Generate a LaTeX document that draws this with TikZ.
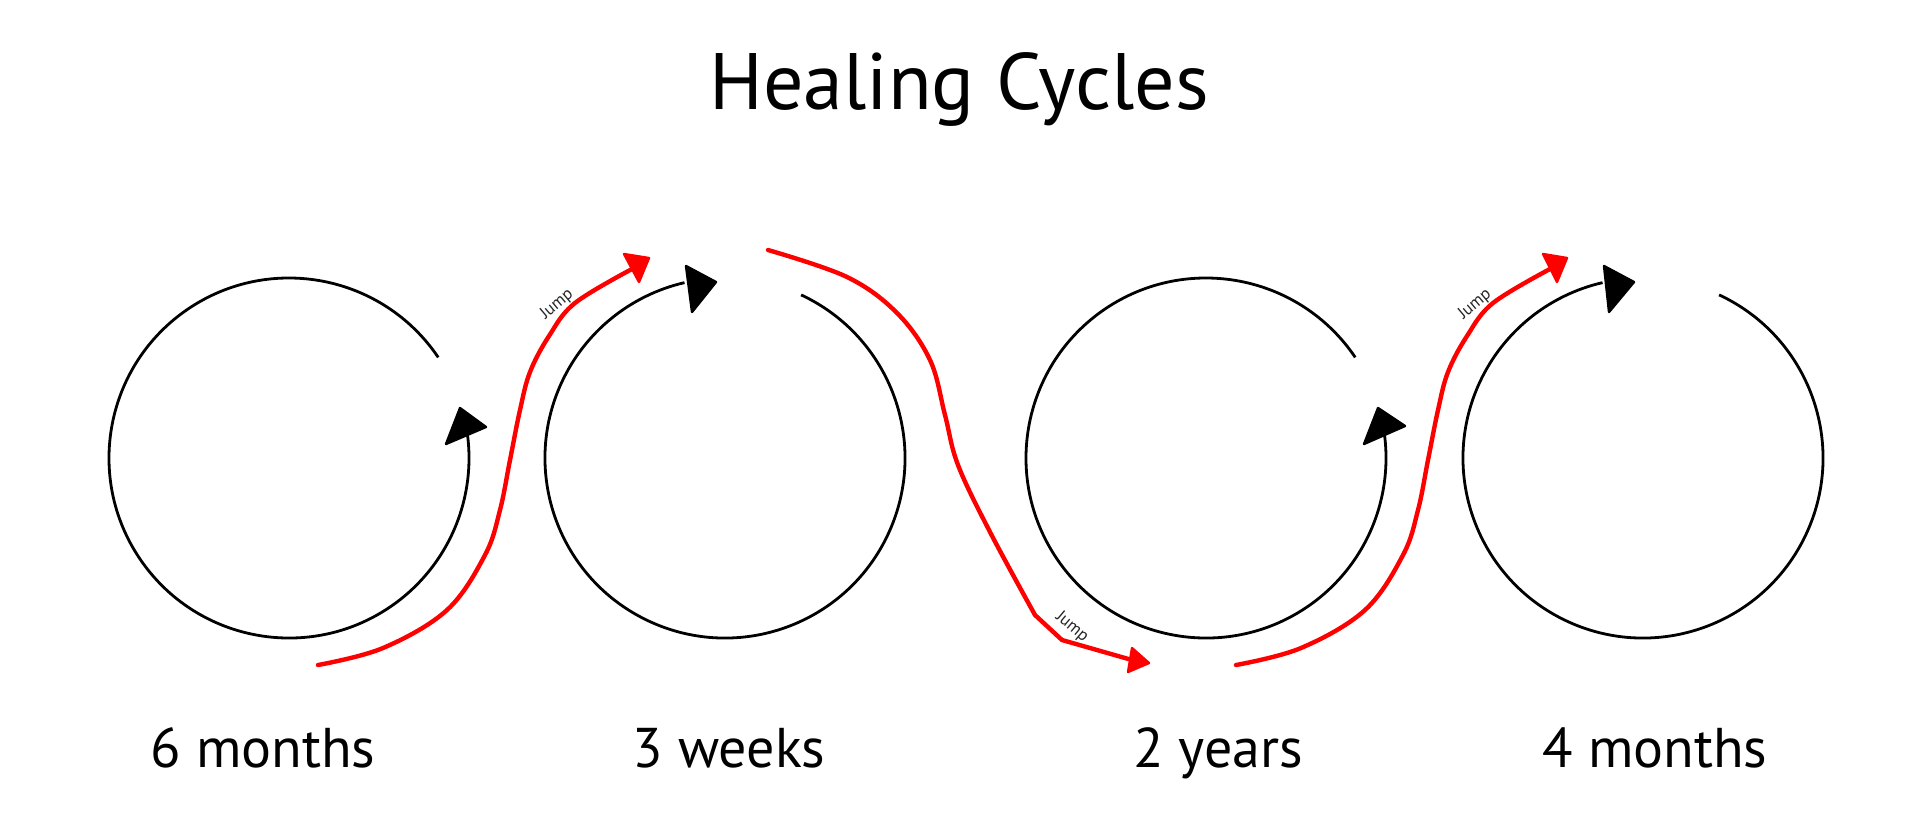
\documentclass[tikz,border=0pt]{standalone}
\usepackage{fontspec}
\setmainfont{PT Sans}
\begin{document}
\begin{tikzpicture}[x=0.5pt,y=-0.5pt,
  circ/.style={line width=1.4pt, black},
  head/.style={fill=black, draw=black, line width=1.2pt, line join=round},
  jumpline/.style={red, line width=2.2pt, line cap=round, line join=round},
  rhead/.style={fill=red, draw=red, line width=1.2pt, line join=round},
  lbl/.style={anchor=base, font=\fontsize{28}{30}\selectfont},
  jmp/.style={font=\fontsize{8.5}{10}\selectfont, text=black!85, inner sep=0pt}]
\useasboundingbox (0,0) rectangle (1920,832);
\fill[white] (0,0) rectangle (1920,832);

\node[anchor=base, font=\fontsize{40}{44}\selectfont] (title) at (959,109) {Healing Cycles};

% circle centres
\coordinate (c1) at (289,458);
\coordinate (c2) at (725,458);
\coordinate (c3) at (1206,458);
\coordinate (c4) at (1643,458);

% circles with gaps
\draw[circ] (c1) ++(-34:180) arc[start angle=-34, end angle=-368, radius=180];
\draw[circ] (c2) ++(-65:180) arc[start angle=-65, end angle=257, radius=180];
\draw[circ] (c3) ++(-34:180) arc[start angle=-34, end angle=-368, radius=180];
\draw[circ] (c4) ++(-65:180) arc[start angle=-65, end angle=257, radius=180];

% black arrowheads
\filldraw[head] (460,408) -- (486,427) -- (446,444) -- cycle;
\filldraw[head] (686,266) -- (716,282) -- (692,312) -- cycle;
\filldraw[head] (1378,408) -- (1405,426) -- (1364,444) -- cycle;
\filldraw[head] (1604,266) -- (1634,282) -- (1609,312) -- cycle;

% red jump paths
\coordinate (r1s) at (318,665);
\coordinate (r1e) at (632,269);
\draw[jumpline] plot[smooth, tension=0.6] coordinates {(318,665) (383,648) (447,610) (485,555) (500,510) (510,460) (520,410) (530,372) (549,336) (575,303) (632,269)};
\filldraw[rhead] (624,254) -- (649,258) -- (639,282) -- cycle;

\coordinate (r2s) at (768,250);
\coordinate (r2e) at (1132,660);
\draw[jumpline] plot[smooth, tension=0.6] coordinates {(768,250) (847,277) (897,313) (930,360) (945,415) (958,465) (990,532) (1035,615)} -- (1062,640) -- (1132,660);
\filldraw[rhead] (1132,648) -- (1149,663) -- (1128,672) -- cycle;

\coordinate (r3s) at (1236,665);
\coordinate (r3e) at (1550,269);
\draw[jumpline] plot[smooth, tension=0.6] coordinates {(1236,665) (1301,648) (1365,610) (1403,555) (1418,510) (1428,460) (1438,410) (1448,372) (1467,336) (1493,303) (1550,269)};
\filldraw[rhead] (1543,254) -- (1567,258) -- (1557,282) -- cycle;

% jump labels
\node[jmp, rotate=40] (j1) at (557,304) {Jump};
\node[jmp, rotate=-40] (j2) at (1072,627) {Jump};
\node[jmp, rotate=40] (j3) at (1475,304) {Jump};

% period labels
\node[lbl] (l1) at (263,767) {6 months};
\node[lbl] (l2) at (729,767) {3 weeks};
\node[lbl] (l3) at (1218,767) {2 years};
\node[lbl] (l4) at (1655,767) {4 months};
\end{tikzpicture}
\end{document}
